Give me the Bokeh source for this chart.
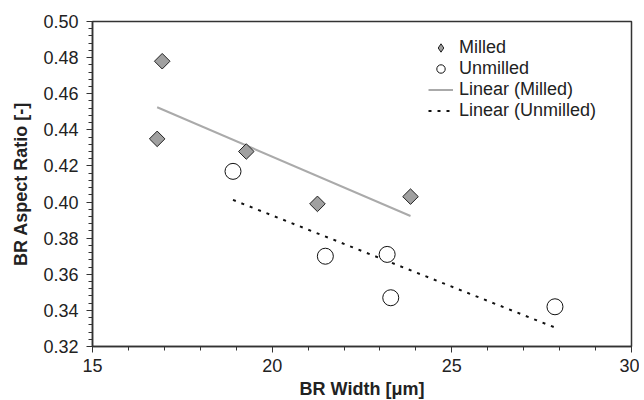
from bokeh.plotting import figure
from bokeh.models import (Range1d, SingleIntervalTicker, NumeralTickFormatter,
                          Legend, LegendItem)
from bokeh.embed import file_html
from bokeh.resources import INLINE
import math

# Data
milled_x = [16.94, 16.80, 19.28, 21.26, 23.85]
milled_y = [0.478, 0.435, 0.428, 0.399, 0.403]
unmilled_x = [18.91, 21.48, 23.20, 23.30, 27.87]
unmilled_y = [0.417, 0.370, 0.371, 0.347, 0.342]
trend_milled_x = [16.80, 23.85]
trend_milled_y = [0.4525, 0.3923]
trend_unmilled_x = [18.91, 27.87]
trend_unmilled_y = [0.4012, 0.3305]

FONT = "Liberation Sans"
FS = "18px"

p = figure(frame_width=539, frame_height=325, output_backend="svg",
           toolbar_location=None,
           x_range=Range1d(15, 30), y_range=Range1d(0.32, 0.50),
           min_border_left=92, min_border_right=8, min_border_top=21,
           min_border_bottom=50)
p.xgrid.visible = False
p.ygrid.visible = False
p.outline_line_color = "#333333"
p.outline_line_width = 1.5
p.background_fill_color = "white"
p.border_fill_color = "white"

l1 = p.line(trend_milled_x, trend_milled_y, line_color="#AAAAAA", line_width=2)
l2 = p.line(trend_unmilled_x, trend_unmilled_y, line_color="#111111",
            line_width=2, line_dash="3 6")
s1 = p.scatter(milled_x, milled_y, marker="square", size=11, angle=math.pi / 4,
               fill_color="#A0A0A0", line_color="#222222", line_width=1)
s2 = p.scatter(unmilled_x, unmilled_y, marker="circle", size=16,
               fill_color="white", line_color="#111111", line_width=1)
# legend-only glyph for the diamond symbol (no visible data)
s1_leg = p.scatter([float("nan")], [float("nan")], marker="diamond", size=11,
                   fill_color="#A0A0A0", line_color="#222222", line_width=1)

for ax in (p.xaxis[0], p.yaxis[0]):
    ax.axis_line_color = "#333333"
    ax.axis_line_width = 1.5
    ax.major_tick_line_color = "#333333"
    ax.minor_tick_line_color = "#333333"
    ax.major_tick_in = 0
    ax.major_tick_out = 6
    ax.minor_tick_in = 0
    ax.minor_tick_out = 4
    ax.major_label_text_font = FONT
    ax.major_label_text_font_size = FS
    ax.major_label_text_color = "#222222"
    ax.axis_label_text_font = FONT
    ax.axis_label_text_font_size = FS
    ax.axis_label_text_font_style = "bold"
    ax.axis_label_text_color = "#222222"

p.xaxis.ticker = SingleIntervalTicker(interval=5, num_minor_ticks=5)
p.yaxis.ticker = SingleIntervalTicker(interval=0.02, num_minor_ticks=5)
p.yaxis.formatter = NumeralTickFormatter(format="0.00")
p.xaxis.formatter = NumeralTickFormatter(format="0")
p.xaxis.axis_label = "BR Width [μm]"
p.yaxis.axis_label = "BR Aspect Ratio [-]"
p.xaxis.major_label_standoff = 6
p.yaxis.major_label_standoff = 8
p.xaxis.axis_label_standoff = 4
p.yaxis.axis_label_standoff = 9

legend = Legend(items=[
    LegendItem(label="Milled", renderers=[s1_leg]),
    LegendItem(label="Unmilled", renderers=[s2]),
    LegendItem(label="Linear (Milled)", renderers=[l1]),
    LegendItem(label="Linear (Unmilled)", renderers=[l2]),
], location=(336, 225))
legend.border_line_color = None
legend.background_fill_alpha = 0
legend.padding = 0
legend.margin = 0
legend.spacing = 0
legend.glyph_width = 25
legend.glyph_height = 21
legend.label_height = 21
legend.label_standoff = 6
legend.label_text_font = FONT
legend.label_text_font_size = FS
legend.label_text_color = "#222222"
p.add_layout(legend, "center")

open("out.html", "w").write(file_html(p, INLINE))
